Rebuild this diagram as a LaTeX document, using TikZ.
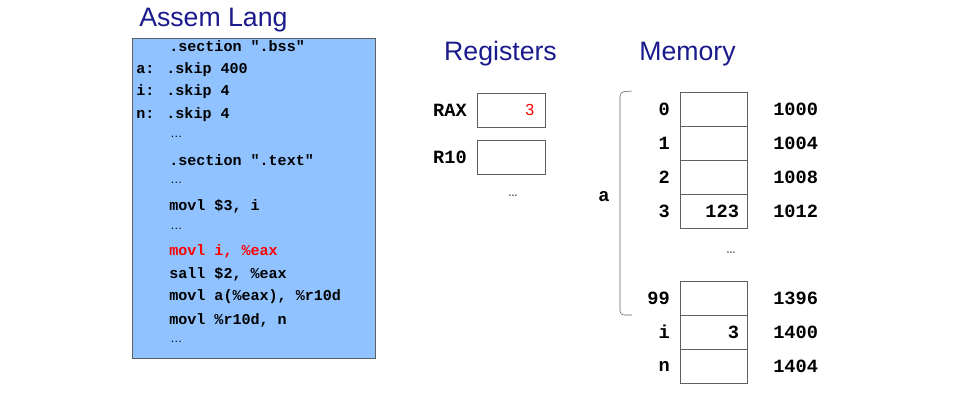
\documentclass[tikz,border=0pt]{standalone}
\usepackage{fontspec}
\setmainfont{Liberation Sans}
\newfontfamily\codefont{Liberation Mono}
\usepackage{xcolor}
\usetikzlibrary{positioning}

\definecolor{codeblue}{RGB}{143,194,255}
\definecolor{titlenavy}{RGB}{26,26,140}
\definecolor{edgegray}{RGB}{95,95,95}

\begin{document}
\begin{tikzpicture}[
    x=0.75pt, y=-0.75pt,
    heading/.style={inner sep=0pt, text=titlenavy, font=\fontsize{20}{24}\selectfont},
    codebox/.style={rectangle, draw=edgegray, fill=codeblue, minimum width=182.25pt, minimum height=240pt},
    codeline/.style={anchor=west, inner sep=0pt, font=\codefont\bfseries\fontsize{11.3}{13}\selectfont},
    tag/.style={inner sep=0pt, font=\codefont\bfseries\fontsize{14}{16}\selectfont},
    dots/.style={inner sep=0pt, text=black!70, font=\codefont\fontsize{11}{13}\selectfont},
    regbox/.style={rectangle, draw=edgegray, minimum width=51pt, minimum height=25.5pt, inner xsep=8pt, text width=35pt, align=right, outer sep=0pt},
    cell/.style={rectangle, draw=edgegray, minimum width=50.25pt, minimum height=25.5pt, inner xsep=6pt, text width=38.25pt, align=right, outer sep=0pt, font=\codefont\bfseries\fontsize{14}{16}\selectfont}
]
\useasboundingbox (0,0) rectangle (963,397);

% assembly code
\node[heading, anchor=west] (asmtitle) at (139,20) {Assem Lang};
\node[codebox] (code) at (253.5,198) {};
\node[codeline] (l1) at (169,46) {.section ".bss"};
\node[codeline] (l2) at (136,70) {a: .skip 400};
\node[codeline] (l3) at (136,92) {i: .skip 4};
\node[codeline] (l4) at (136,115) {n: .skip 4};
\node[codeline] (l5) at (170,137) {\normalfont\fontsize{9}{10}\selectfont …};
\node[codeline] (l6) at (169,160) {.section ".text"};
\node[codeline] (l7) at (170,183) {\normalfont\fontsize{9}{10}\selectfont …};
\node[codeline] (l8) at (169,206) {movl \$3, i};
\node[codeline] (l9) at (170,229) {\normalfont\fontsize{9}{10}\selectfont …};
\node[codeline, text=red] (l10) at (169,251) {movl i, \%eax};
\node[codeline] (l11) at (169,274) {sall \$2, \%eax};
\node[codeline] (l12) at (169,297) {movl a(\%eax), \%r10d};
\node[codeline] (l13) at (169,320) {movl \%r10d, n};
\node[codeline] (l14) at (170,342) {\normalfont\fontsize{9}{10}\selectfont …};

% registers
\node[heading] (regtitle) at (500.5,54) {Registers};
\node[regbox] (rax) at (511,110) {\textcolor{red}{\fontsize{12}{14}\selectfont 3}};
\node[regbox, below=9.75pt of rax] (r10) {};
\node[tag, left=7.5pt of rax] (raxname) {RAX};
\node[tag, left=7.5pt of r10] (r10name) {R10};
\node[dots] (regdots) at (513,196) {…};

% memory
\node[heading] (memtitle) at (687.5,54) {Memory};
\node[cell] (m0) at (713.5,109) {};
\node[cell, below=0pt of m0] (m1) {};
\node[cell, below=0pt of m1] (m2) {};
\node[cell, below=0pt of m2] (m3) {123};
\node[dots] (memdots) at (731,253) {…};
\node[cell] (m99) at (713.5,298) {};
\node[cell, below=0pt of m99] (mi) {3};
\node[cell, below=0pt of mi] (mn) {};

\node[tag, left=7.5pt of m0] (i0) {0};
\node[tag, left=7.5pt of m1] (i1) {1};
\node[tag, left=7.5pt of m2] (i2) {2};
\node[tag, left=7.5pt of m3] (i3) {3};
\node[tag, left=7.5pt of m99] (i99) {99};
\node[tag, left=7.5pt of mi] (ii) {i};
\node[tag, left=7.5pt of mn] (in) {n};

\node[tag, right=19.5pt of m0] (a0) {1000};
\node[tag, right=19.5pt of m1] (a1) {1004};
\node[tag, right=19.5pt of m2] (a2) {1008};
\node[tag, right=19.5pt of m3] (a3) {1012};
\node[tag, right=19.5pt of m99] (a99) {1396};
\node[tag, right=19.5pt of mi] (ai) {1400};
\node[tag, right=19.5pt of mn] (an) {1404};

% bracket for a
\draw[edgegray, rounded corners=3pt] (632,91) -- (620,92) -- (620,315) -- (632,315);
\node[tag] (aname) at (604,197) {a};
\end{tikzpicture}
\end{document}
